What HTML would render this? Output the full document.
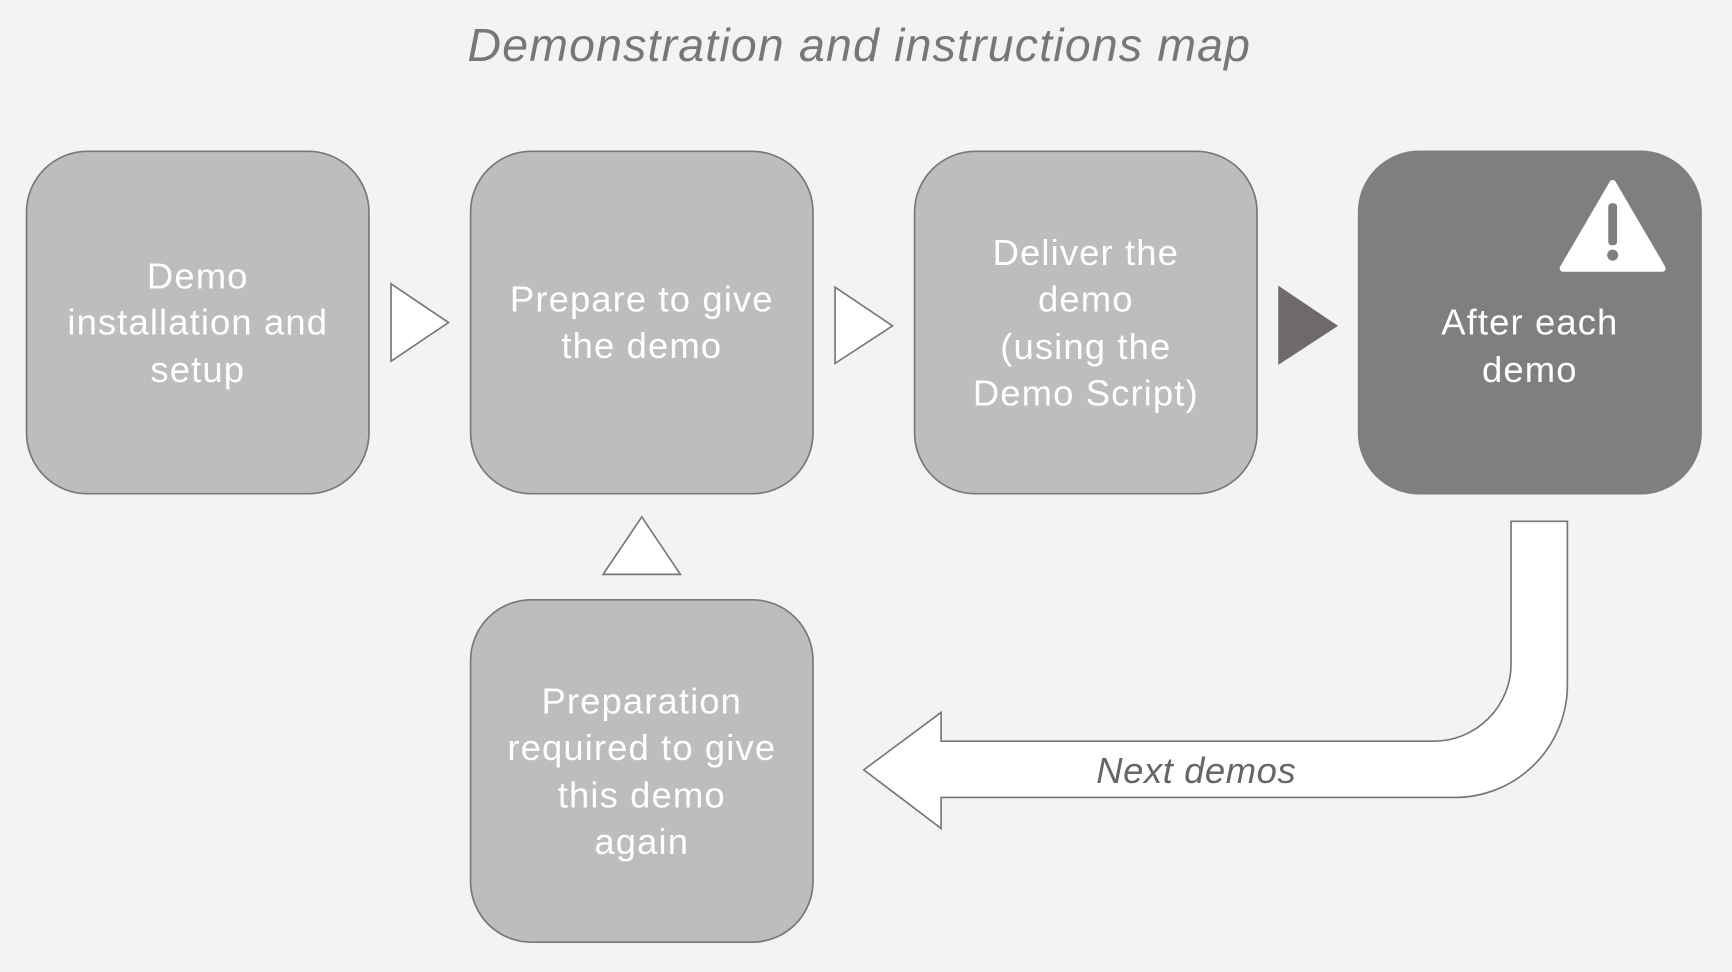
<!DOCTYPE html>
<html><head><meta charset="utf-8"><style>
html,body{margin:0;padding:0;background:#f3f3f3;}
svg{display:block}
text{font-family:"Liberation Sans",sans-serif;}
</style></head><body>
<svg width="1732" height="972" viewBox="0 0 1568 880" xmlns="http://www.w3.org/2000/svg">
<rect width="1568" height="880" fill="#f3f3f3"/>
<text x="778" y="55" font-size="42" font-style="italic" fill="#777" text-anchor="middle" letter-spacing="1.1">Demonstration and instructions map</text>
<g stroke="#777" stroke-width="1.5">
<rect x="24" y="137" width="310" height="310" rx="55" fill="#bdbdbd"/>
<rect x="426" y="137" width="310" height="310" rx="55" fill="#bdbdbd"/>
<rect x="828" y="137" width="310" height="310" rx="55" fill="#bdbdbd"/>
<rect x="1230" y="137" width="310" height="310" rx="55" fill="#7f7f7f" stroke="#7f7f7f"/>
<rect x="426" y="543" width="310" height="310" rx="55" fill="#bdbdbd"/>
<polygon points="354,257 406,292 354,327" fill="#fff"/>
<polygon points="756,260 808,295 756,329" fill="#fff"/>
<polygon points="1158,260 1210,295 1158,329" fill="#6f6a6a" stroke="#6f6a6a"/>
<polygon points="546,520 581,468 616,520" fill="#fff"/>
<path d="M1419,472 V620 A102,102 0 0 1 1317,722 H852 V750 L782,697 L852,645 V671 H1298 A70,70 0 0 0 1368,601 V472 Z" fill="#fff"/>
</g>
<path d="M1460,166 L1505,243 L1415,243 Z" fill="#fff" stroke="#fff" stroke-width="6" stroke-linejoin="round"/>
<rect x="1456" y="184" width="8" height="38" rx="3" fill="#7f7f7f"/>
<circle cx="1460" cy="231" r="5" fill="#7f7f7f"/>
<g font-size="33" fill="#fff" text-anchor="middle" letter-spacing="1">
<text x="179" y="261">Demo</text><text x="179" y="303">installation and</text><text x="179" y="346">setup</text>
<text x="581" y="282">Prepare to give</text><text x="581" y="324">the demo</text>
<text x="983" y="240">Deliver the</text><text x="983" y="282">demo</text><text x="983" y="325">(using the</text><text x="983" y="367">Demo Script)</text>
<text x="1385" y="303">After each</text><text x="1385" y="346">demo</text>
<text x="581" y="646">Preparation</text><text x="581" y="688">required to give</text><text x="581" y="731">this demo</text><text x="581" y="773">again</text>
</g>
<text x="1083" y="709" font-size="33" font-style="italic" fill="#666" text-anchor="middle" letter-spacing="0.5">Next demos</text>
</svg>
</body></html>
